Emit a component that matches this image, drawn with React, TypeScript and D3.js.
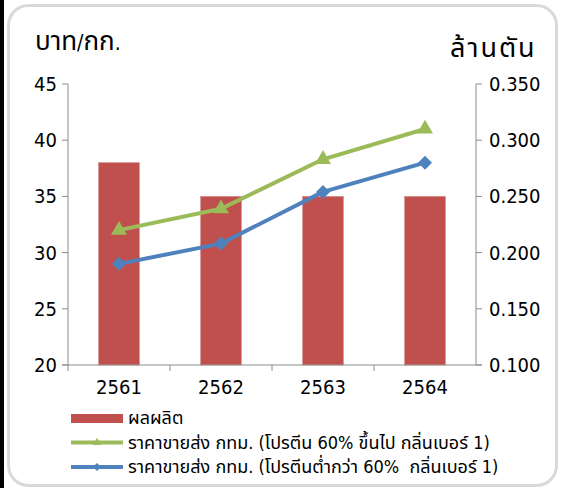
import React from 'react';
import * as d3 from 'd3';

const categories = ['2561', '2562', '2563', '2564'];
const production = [0.28, 0.25, 0.25, 0.25];
const priceHigh = [32, 33.9, 38.3, 41];
const priceLow = [29, 30.8, 35.4, 38];
const leftTicks = [20, 25, 30, 35, 40, 45];
const rightTicks = [0.1, 0.15, 0.2, 0.25, 0.3, 0.35];

const legendItems = [
  { label: 'ผลผลิต', kind: 'bar', color: '#C0504D' },
  { label: 'ราคาขายส่ง กทม. (โปรตีน 60% ขึ้นไป กลิ่นเบอร์ 1)', kind: 'triangle', color: '#9BBB59' },
  { label: 'ราคาขายส่ง กทม. (โปรตีนต่ำกว่า 60%  กลิ่นเบอร์ 1)', kind: 'diamond', color: '#4F81BD' },
];

const W = 565;
const H = 488;
const FONT = "Tahoma, 'DejaVu Sans Condensed', 'DejaVu Sans', 'Noto Sans Thai', sans-serif";
const AXIS = '#8c8c8c';

const plot = { left: 68, right: 476, top: 84, bottom: 365 };

const App: React.FC = () => {
  const x = d3.scaleBand<string>().domain(categories).range([plot.left, plot.right]);
  const yLeft = d3.scaleLinear().domain([20, 45]).range([plot.bottom, plot.top]);
  const yRight = d3.scaleLinear().domain([0.1, 0.35]).range([plot.bottom, plot.top]);
  const barW = x.bandwidth() * 0.4;
  const cx = (c: string) => (x(c) || 0) + x.bandwidth() / 2;

  const line = d3.line<number>()
    .x((_, i) => cx(categories[i]))
    .y(d => yLeft(d));

  const triangle = d3.symbol().type(d3.symbolTriangle).size(110)();
  const diamond = (s: number) => `M0,${-s}L${s},0L0,${s}L${-s},0Z`;

  return (
    <div style={{ position: 'absolute', left: 0, top: 0 }}>
      <svg width={W} height={H} style={{ display: 'block', fontFamily: FONT }}>
        <rect x={0} y={0} width={W} height={H} fill="#fff" />
        <rect x={0} y={0} width={4} height={H} fill="#000" />
        <rect x={8.5} y={5.5} width={548} height={480} rx={20} fill="#fff" stroke="#d9d9d9" strokeWidth={3} />

        {/* axis titles */}
        <text x={35} y={50} fontSize={26} fill="#000">
          บาท<tspan fontSize={21}>/</tspan>กก<tspan fontSize={21}>.</tspan>
        </text>
        <text x={450} y={57} fontSize={27} letterSpacing={2} fill="#000">ล้านตัน</text>

        {/* bars */}
        {categories.map((c, i) => (
          <rect key={c} x={cx(c) - barW / 2} y={yRight(production[i])}
            width={barW} height={yRight(0.1) - yRight(production[i])}
            fill="#C0504D" stroke="#d88a88" strokeWidth={0.6} />
        ))}

        {/* axes */}
        <line x1={plot.left} x2={plot.left} y1={plot.top} y2={plot.bottom} stroke={AXIS} />
        <line x1={plot.right} x2={plot.right} y1={plot.top} y2={plot.bottom} stroke={AXIS} />
        <line x1={plot.left - 6} x2={plot.right + 6} y1={plot.bottom} y2={plot.bottom} stroke={AXIS} />
        {leftTicks.map(t => (
          <g key={t}>
            <line x1={plot.left - 6} x2={plot.left} y1={yLeft(t)} y2={yLeft(t)} stroke={AXIS} />
            <text x={57} y={yLeft(t)} dy="0.35em" textAnchor="end" fontSize={20} fill="#000">{t}</text>
          </g>
        ))}
        {rightTicks.map(t => (
          <g key={t}>
            <line x1={plot.right} x2={plot.right + 6} y1={yRight(t)} y2={yRight(t)} stroke={AXIS} />
            <text x={489} y={yRight(t)} dy="0.35em" fontSize={20} fill="#000">{d3.format('.3f')(t)}</text>
          </g>
        ))}
        {categories.map(c => (
          <line key={c} x1={x(c)} x2={x(c)} y1={plot.bottom} y2={plot.bottom + 6} stroke={AXIS} />
        ))}
        {categories.map(c => (
          <text key={c} x={cx(c)} y={394} textAnchor="middle" fontSize={20} fill="#000">{c}</text>
        ))}

        {/* lines */}
        <path d={line(priceHigh) || ''} fill="none" stroke="#9BBB59" strokeWidth={4} strokeLinejoin="round" />
        {priceHigh.map((v, i) => (
          <path key={i} d={triangle || ''} transform={`translate(${cx(categories[i])},${yLeft(v)})`} fill="#9BBB59" />
        ))}
        <path d={line(priceLow) || ''} fill="none" stroke="#4F81BD" strokeWidth={4} strokeLinejoin="round" />
        {priceLow.map((v, i) => (
          <path key={i} d={diamond(7)} transform={`translate(${cx(categories[i])},${yLeft(v)})`} fill="#4F81BD" />
        ))}

        {/* legend */}
        {legendItems.map((d, i) => {
          const ly = 418 + i * 24.5;
          return (
            <g key={d.label}>
              {d.kind === 'bar' ? (
                <rect x={71} y={ly - 4} width={52} height={9} fill={d.color} />
              ) : (
                <g>
                  <line x1={71} x2={123} y1={ly} y2={ly} stroke={d.color} strokeWidth={4} />
                  <path d={d.kind === 'triangle'
                    ? d3.symbol().type(d3.symbolTriangle).size(30)() || ''
                    : diamond(4)}
                    transform={`translate(97,${ly})`} fill={d.color} />
                </g>
              )}
              <text x={128} y={ly} dy="0.35em" fontSize={18} fill="#000" style={{ whiteSpace: 'pre' }}>{d.label}</text>
            </g>
          );
        })}
      </svg>
    </div>
  );
};

export default App;
